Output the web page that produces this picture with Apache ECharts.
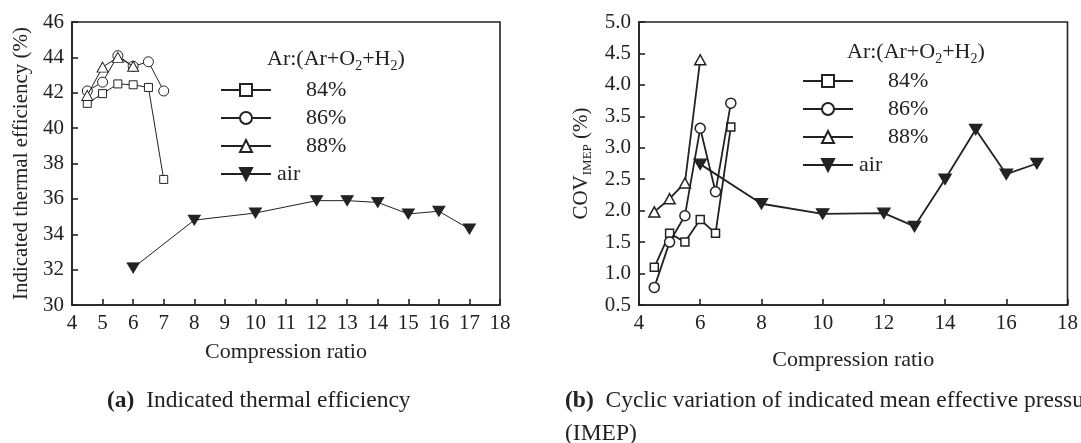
<!DOCTYPE html>
<html>
<head>
<meta charset="utf-8">
<script src="https://cdn.jsdelivr.net/npm/echarts@6/dist/echarts.min.js"></script>
<style>
  html, body { margin: 0; padding: 0; background: #fff; }
  #wrap { position: relative; width: 1081px; height: 443px; overflow: hidden; }
  #left { position: absolute; left: 0; top: 0; width: 540px; height: 443px; }
  #right { position: absolute; left: 540px; top: 0; width: 541px; height: 443px; }
</style>
</head>
<body>
<div id="wrap">
  <div id="left"></div>
  <div id="right"></div>
</div>
<script>
// compression ratio for each series
const crAr = [4.5, 5, 5.5, 6, 6.5, 7]
const crAr88 = [4.5, 5, 5.5, 6]
const crAir = [6, 8, 10, 12, 13, 14, 15, 16, 17]

// (a) indicated thermal efficiency (%)
const eff84 = [41.4, 41.95, 42.5, 42.45, 42.3, 37.1]
const eff86 = [42.1, 42.6, 44.1, 43.5, 43.75, 42.1]
const eff88 = [41.85, 43.45, 44.0, 43.5]
const effAir = [32.1, 34.8, 35.2, 35.9, 35.9, 35.8, 35.15, 35.3, 34.3]

// (b) COV of IMEP (%)
const cov84 = [1.1, 1.64, 1.5, 1.86, 1.64, 3.33]
const cov86 = [0.78, 1.5, 1.92, 3.31, 2.3, 3.71]
const cov88 = [1.98, 2.19, 2.44, 4.4]
const covAir = [2.74, 2.11, 1.95, 1.96, 1.75, 2.5, 3.29, 2.58, 2.75]

const legendNames = ['84%', '86%', '88%', 'air']
const font = 'Liberation Serif'
const ink = '#222'

function pairs (xs, ys) {
  return xs.map((x, i) => [x, ys[i]])
}

function makeSeries (sets, lw, bw) {
  const symbols = [
    { symbol: 'rect', symbolSize: 8, rotate: 0, fill: '#fff' },
    { symbol: 'circle', symbolSize: 10, rotate: 0, fill: '#fff' },
    { symbol: 'triangle', symbolSize: [11, 10], rotate: 0, fill: '#fff' },
    { symbol: 'triangle', symbolSize: [12, 10], rotate: 180, fill: ink }
  ]
  return sets.map((d, i) => ({
    name: legendNames[i],
    type: 'line',
    data: d,
    symbol: symbols[i].symbol,
    symbolSize: symbols[i].symbolSize,
    symbolRotate: symbols[i].rotate,
    showAllSymbol: true,
    lineStyle: { color: ink, width: lw },
    itemStyle: { color: symbols[i].fill, borderColor: ink, borderWidth: bw },
    emphasis: { disabled: true },
    z: 2 + i
  }))
}

function legendTitle (left, top) {
  return {
    text: '{a|Ar:(Ar+O}{s|2}{a|+H}{s|2}{a|)}',
    left: left,
    top: top,
    padding: 0,
    textStyle: {
      fontWeight: 'normal',
      rich: {
        a: { fontFamily: font, fontSize: 22, fontWeight: 'normal', color: ink },
        s: { fontFamily: font, fontSize: 14, fontWeight: 'normal', color: ink, padding: [14, 0, 0, 0] }
      }
    }
  }
}

function legend (left, top, gap) {
  return {
    left: left,
    top: top,
    orient: 'vertical',
    itemWidth: 50,
    itemHeight: 15,
    itemGap: gap,
    selectedMode: false,
    data: legendNames,
    formatter: name => name === 'air' ? '{p|air}' : '{q|' + name + '}',
    textStyle: {
      fontFamily: font,
      fontSize: 22,
      color: ink,
      rich: {
        p: { fontFamily: font, fontSize: 22, color: ink, padding: [0, 0, 0, 1] },
        q: { fontFamily: font, fontSize: 22, color: ink, padding: [0, 0, 0, 30] }
      }
    }
  }
}

function axisBase () {
  return {
    type: 'value',
    axisLine: { show: true, lineStyle: { color: ink, width: 1.6 } },
    axisTick: { show: true, inside: true, length: 6, lineStyle: { color: ink, width: 1.6 } },
    axisLabel: { fontFamily: font, fontSize: 21, color: ink, margin: 8 },
    splitLine: { show: false },
    nameLocation: 'middle'
  }
}

function caption (text, left, top) {
  return {
    text: text,
    left: left,
    top: top,
    padding: 0,
    textStyle: {
      fontWeight: 'normal',
      lineHeight: 33,
      rich: {
        b: { fontFamily: font, fontSize: 23.5, fontWeight: 'bold', color: ink, lineHeight: 33 },
        n: { fontFamily: font, fontSize: 23.5, fontWeight: 'normal', color: ink, lineHeight: 33 }
      }
    }
  }
}

// (a) Indicated thermal efficiency
const leftChart = echarts.init(document.getElementById('left'))
leftChart.setOption({
  animation: false,
  backgroundColor: '#fff',
  title: [
    legendTitle(267, 45),
    caption('{b|(a)}{n|  Indicated thermal efficiency}', 107, 384)
  ],
  legend: legend(215, 74, 6),
  grid: { left: 72, right: 40, top: 22, bottom: 138, show: true, borderColor: ink, borderWidth: 1.6 },
  xAxis: Object.assign(axisBase(), {
    min: 4, max: 18, interval: 1,
    name: 'Compression ratio',
    nameGap: 36,
    nameTextStyle: { fontFamily: font, fontSize: 22, color: ink }
  }),
  yAxis: Object.assign(axisBase(), {
    min: 30, max: 46, interval: 2,
    name: 'Indicated thermal efficiency (%)',
    nameGap: 38,
    nameTextStyle: { fontFamily: font, fontSize: 21, color: ink }
  }),
  series: makeSeries([
    pairs(crAr, eff84),
    pairs(crAr, eff86),
    pairs(crAr88, eff88),
    pairs(crAir, effAir)
  ], 1, 1)
})

// (b) Cyclic variation of IMEP
const rightChart = echarts.init(document.getElementById('right'))
rightChart.setOption({
  animation: false,
  backgroundColor: '#fff',
  title: [
    legendTitle(307, 38),
    caption('{b|(b)}{n|  Cyclic variation of indicated mean effective pressure}\n{n|(IMEP)}', 25, 384)
  ],
  legend: legend(257, 65, 6),
  grid: { left: 99, right: 13, top: 22, bottom: 138, show: true, borderColor: ink, borderWidth: 1.6 },
  xAxis: Object.assign(axisBase(), {
    min: 4, max: 18, interval: 2,
    name: 'Compression ratio',
    nameGap: 44,
    nameTextStyle: { fontFamily: font, fontSize: 22, color: ink }
  }),
  yAxis: Object.assign(axisBase(), {
    min: 0.5, max: 5, interval: 0.5,
    axisLabel: { fontFamily: font, fontSize: 21, color: ink, margin: 8, formatter: v => v.toFixed(1) },
    name: '{a|COV}{s|IMEP}{a| (%)}',
    nameGap: 41,
    nameTextStyle: {
      rich: {
        a: { fontFamily: font, fontSize: 21, color: ink },
        s: { fontFamily: font, fontSize: 13, color: ink, padding: [12, 0, 0, 0] }
      }
    }
  }),
  series: makeSeries([
    pairs(crAr, cov84),
    pairs(crAr, cov86),
    pairs(crAr88, cov88),
    pairs(crAir, covAir)
  ], 1.8, 1.5)
})
</script>
</body>
</html>
